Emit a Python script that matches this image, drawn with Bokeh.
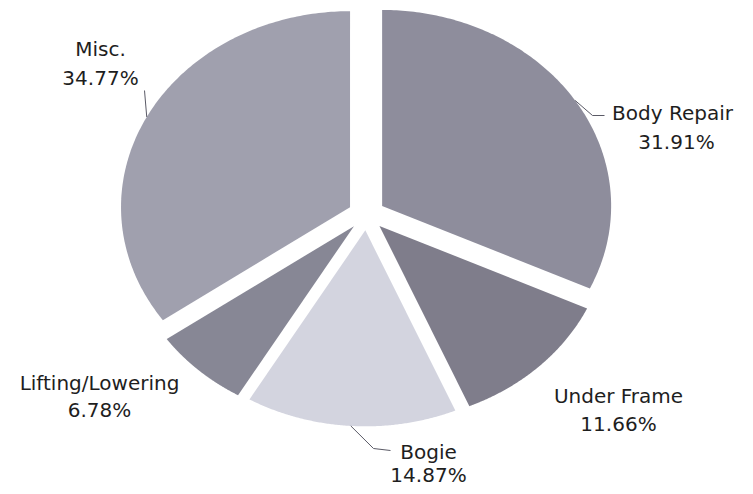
import numpy as np
from bokeh.plotting import figure
from bokeh.models import Range1d
from bokeh.embed import file_html
from bokeh.resources import INLINE
from bokeh.core.properties import value

# ---- data ----
categories = ["Body Repair", "Under Frame", "Bogie", "Lifting/Lowering", "Misc."]
shares = [31.91, 11.66, 14.87, 6.78, 34.77]
colors = ["#8e8d9c", "#7f7d8b", "#d3d4df", "#878795", "#a0a0ae"]

# ---- layout (picture pixels) ----
CX, CY = 366, 214
RX, RY = 229, 196
EXPLODE = 0.081
FONT = "DejaVu Sans"
FSIZE = "20px"

label_pos = {
    "Body Repair": ((672, 112), (676, 141)),
    "Under Frame": ((618, 395), (618, 423)),
    "Bogie": ((428, 451), (428, 474)),
    "Lifting/Lowering": ((99, 382), (99, 409)),
    "Misc.": ((100, 48), (100, 77)),
}
leader_tail = {
    "Body Repair": [(592, 115), (604, 115)],
    "Bogie": [(373, 448), (390, 450)],
    "Misc.": [(144, 90)],
}

total = sum(shares)
edges = np.cumsum([0] + shares) / total * 2 * np.pi
xs, ys, mids = [], [], []
for i in range(len(shares)):
    a0, a1 = edges[i], edges[i + 1]
    m = (a0 + a1) / 2
    ox = CX + EXPLODE * RX * np.sin(m)
    oy = CY - EXPLODE * RY * np.cos(m)
    t = np.linspace(a0, a1, 160)
    xs.append([ox] + list(ox + RX * np.sin(t)))
    ys.append([oy] + list(oy - RY * np.cos(t)))
    mids.append((ox + RX * np.sin(m), oy - RY * np.cos(m)))

W, H = 737, 486
p = figure(width=W, height=H, output_backend="svg", toolbar_location=None,
           x_range=Range1d(0, W), y_range=Range1d(H, 0), min_border=0)
p.axis.visible = False
p.grid.visible = False
p.outline_line_color = None
p.background_fill_color = "white"

p.patches(xs, ys, fill_color=colors, line_color=None)

for i, cat in enumerate(categories):
    if cat in leader_tail:
        pts = [mids[i]] + leader_tail[cat]
        p.line([q[0] for q in pts], [q[1] for q in pts], line_color="#5a5a66", line_width=1)

for i, cat in enumerate(categories):
    (nx, ny), (vx, vy) = label_pos[cat]
    p.text([nx], [ny], text=[cat], text_align="center", text_baseline="middle",
           text_font=value(FONT), text_font_size=FSIZE, text_color="#1e1e1e")
    p.text([vx], [vy], text=[f"{shares[i]:.2f}%"], text_align="center", text_baseline="middle",
           text_font=value(FONT), text_font_size=FSIZE, text_color="#1e1e1e")

open("out.html", "w").write(file_html(p, INLINE))
